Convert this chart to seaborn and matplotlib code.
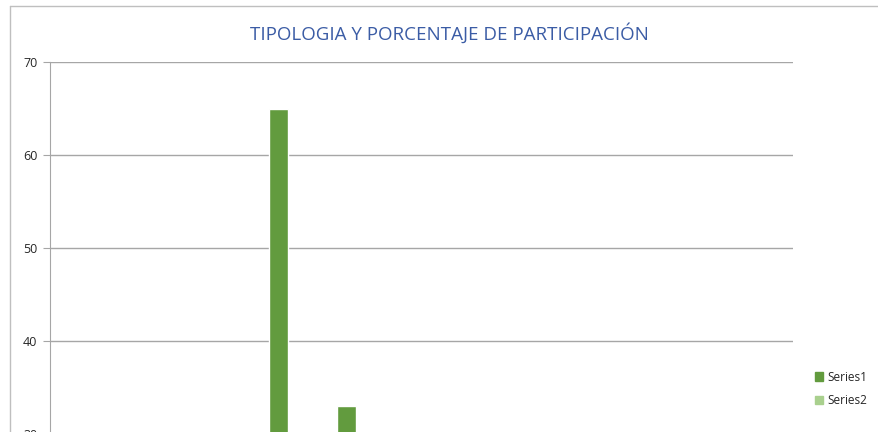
import matplotlib.pyplot as plt
import pandas as pd
import seaborn as sns
from matplotlib.lines import Line2D

# datos (solo se ven las dos barras > 30)
categories = ["1", "2", "3", "4", "5", "6", "7", "8", "9", "10", "11"]
series1 = [0, 0, 0, 65, 33, 0, 0, 0, 0, 0, 0]
series2 = [0, 0, 0, 0, 0, 0, 0, 0, 0, 0, 0]
y_ticks = [0, 10, 20, 30, 40, 50, 60, 70]

df = pd.DataFrame({
    "cat": categories * 2,
    "valor": series1 + series2,
    "serie": ["Series1"] * len(categories) + ["Series2"] * len(categories),
})

sns.set_style("white")
plt.rcParams["font.family"] = ["Open Sans", "DejaVu Sans"]

fig = plt.figure(figsize=(8.79, 4.32), dpi=100)
# el gráfico original está recortado por abajo: el eje sigue bajo el borde
ax = fig.add_axes([50 / 879, (432 - 713) / 432, 743 / 879, 651 / 432])

sns.barplot(
    data=df, x="cat", y="valor", hue="serie", ax=ax,
    palette=["#629b3e", "#a9d08e"], width=0.57, gap=0,
    saturation=1, legend=False,
)

ax.set_ylim(0, 70)
ax.set_xlim(-0.53, len(categories) - 0.53)
ax.set_yticks(y_ticks)
ax.yaxis.grid(True, color="#a6a6a6", linewidth=1)
ax.set_axisbelow(True)
for side in ["top", "right", "bottom"]:
    ax.spines[side].set_visible(False)
ax.spines["left"].set_color("#a6a6a6")
ax.tick_params(axis="y", left=True, length=5, color="#a6a6a6", labelsize=9, pad=4)
ax.tick_params(axis="x", bottom=False, labelbottom=False)
ax.set_xlabel("")
ax.set_ylabel("")

fig.text(449 / 879, (432 - 33) / 432, "TIPOLOGIA Y PORCENTAJE DE PARTICIPACIÓN",
         ha="center", va="center", fontsize=13.5, color="#3b5ca5")

# marco exterior del gráfico
fig.add_artist(Line2D([10 / 879, 1], [(432 - 6) / 432] * 2, color="#bfbfbf", lw=1))
fig.add_artist(Line2D([10 / 879] * 2, [0, (432 - 6) / 432], color="#bfbfbf", lw=1))

handles = [
    plt.Rectangle((0, 0), 1, 1, color="#629b3e"),
    plt.Rectangle((0, 0), 1, 1, color="#a9d08e"),
]
fig.legend(handles, ["Series1", "Series2"], loc="center left",
           bbox_to_anchor=(804 / 879, (432 - 389) / 432), frameon=False,
           fontsize=8.5, handlelength=0.7, handleheight=0.7,
           handletextpad=0.4, labelspacing=0.9)

fig.savefig("out.png", dpi=100)
